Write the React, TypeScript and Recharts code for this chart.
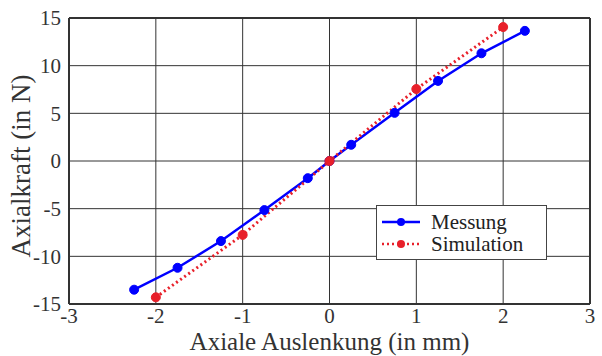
import { LineChart, Line, XAxis, YAxis, CartesianGrid, ReferenceLine } from 'recharts';

const messungX = [-2.25, -1.75, -1.25, -0.75, -0.25, 0, 0.25, 0.75, 1.25, 1.75, 2.25];
const messungY = [-13.5, -11.2, -8.4, -5.15, -1.8, 0, 1.7, 5.05, 8.4, 11.3, 13.65];
const simX = [-2, -1, 0, 1, 2];
const simY = [-14.3, -7.75, 0, 7.55, 14.05];
const xTicks = [-3, -2, -1, 0, 1, 2, 3];
const yTicks = [-15, -10, -5, 0, 5, 10, 15];

const messung = messungX.map((x, i) => ({ x, y: messungY[i] }));
const simulation = simX.map((x, i) => ({ x, y: simY[i] }));

const font = 'Liberation Serif';
const tickStyle = { fontSize: 21, fill: '#333', fontFamily: font };

function LegendBox() {
  const items = [
    { name: 'Messung', color: '#0000ff', dash: undefined },
    { name: 'Simulation', color: '#e8202a', dash: '2 3' },
  ];
  return (
    <div
      style={{
        position: 'absolute',
        left: 376,
        top: 205,
        width: 171,
        height: 55,
        border: '1px solid #444',
        background: 'white',
        fontFamily: font,
        fontSize: 21,
        color: '#222',
        boxSizing: 'border-box',
        paddingTop: 5,
      }}
    >
      {items.map((it) => (
        <div key={it.name} style={{ display: 'flex', alignItems: 'center', height: 22 }}>
          <svg width={51} height={12} style={{ marginLeft: 3 }}>
            <line x1={2} y1={6} x2={40} y2={6} stroke={it.color} strokeWidth={2.5} strokeDasharray={it.dash} />
            <circle cx={21} cy={6} r={4} fill={it.color} />
          </svg>
          <span style={{ lineHeight: '22px' }}>{it.name}</span>
        </div>
      ))}
    </div>
  );
}

export default function App() {
  return (
    <div style={{ position: 'absolute', left: 0, top: 0, width: 602, height: 356, background: 'white', fontFamily: font }}>
      <LineChart width={602} height={356} margin={{ top: 18, right: 12, bottom: 0, left: 0 }} style={{ fontFamily: font }}>
        <CartesianGrid stroke="#333" strokeWidth={1} horizontalValues={yTicks} verticalValues={xTicks} />
        <XAxis
          type="number"
          dataKey="x"
          domain={[-3, 3]}
          ticks={xTicks}
          allowDataOverflow
          height={52}
          tickSize={0}
          tickMargin={4}
          axisLine={false}
          tick={tickStyle}
          label={{
            value: 'Axiale Auslenkung (in mm)',
            position: 'insideBottom',
            offset: 6,
            style: { fontSize: 25, fill: '#333', fontFamily: font },
          }}
        />
        <YAxis
          type="number"
          dataKey="y"
          domain={[-15, 15]}
          ticks={yTicks}
          allowDataOverflow
          width={69}
          tickSize={0}
          tickMargin={8}
          axisLine={false}
          tick={tickStyle}
          label={{
            value: 'Axialkraft (in N)',
            angle: -90,
            position: 'insideLeft',
            offset: 0,
            dx: 20,
            dy: 5,
            style: { fontSize: 27, fill: '#333', fontFamily: font, textAnchor: 'middle' },
          }}
        />
        <ReferenceLine x={-3} stroke="#333" strokeWidth={2} />
        <ReferenceLine x={3} stroke="#333" strokeWidth={2} />
        <ReferenceLine y={-15} stroke="#333" strokeWidth={2} />
        <ReferenceLine y={15} stroke="#333" strokeWidth={2} />
        <Line
          data={messung}
          dataKey="y"
          name="Messung"
          stroke="#0000ff"
          strokeWidth={2.5}
          dot={{ r: 4.5, fill: '#0000ff', stroke: '#0000ff', strokeWidth: 1 }}
          isAnimationActive={false}
        />
        <Line
          data={simulation}
          dataKey="y"
          name="Simulation"
          stroke="#e8202a"
          strokeWidth={3}
          strokeDasharray="2 3"
          dot={{ r: 4.5, fill: '#e8202a', stroke: '#e8202a', strokeWidth: 1, strokeDasharray: '' }}
          isAnimationActive={false}
        />
      </LineChart>
      <LegendBox />
    </div>
  );
}
